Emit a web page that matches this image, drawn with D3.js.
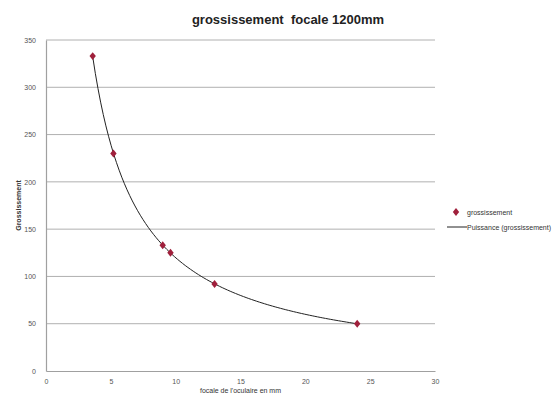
<!DOCTYPE html>
<html>
<head>
<meta charset="utf-8">
<script src="https://cdn.jsdelivr.net/npm/d3@7"></script>
<style>
  body { margin: 0; background: #fff; }
  text { font-family: "Liberation Sans", Arial, sans-serif; }
</style>
</head>
<body>
<svg id="chart" width="560" height="420"></svg>
<script>
// focale des oculaires (mm) et grossissement obtenu
const focales = [3.6, 5.2, 9, 9.6, 13, 24];
const grossissements = [333, 230, 133, 125, 92, 50];
const xTicks = [0, 5, 10, 15, 20, 25, 30];
const yTicks = [0, 50, 100, 150, 200, 250, 300, 350];

let svg = d3.select('#chart');

let margin = {left: 46, right: 125, top: 40, bottom: 49};
let width = 560, height = 420;

let x = d3.scaleLinear().domain([0, 30]).range([margin.left, width - margin.right]);
let y = d3.scaleLinear().domain([0, 350]).range([height - margin.bottom, margin.top]);

// grille horizontale
svg.append('g')
  .selectAll('line')
  .data(yTicks.slice(1))
  .enter()
  .append('line')
  .attr('x1', x(0)).attr('x2', x(30))
  .attr('y1', d => y(d)).attr('y2', d => y(d))
  .attr('stroke', '#b0b0b0')
  .attr('stroke-width', 1);

let xAxis = svg.append('g')
  .attr('transform', `translate(0,${y(0)})`)
  .call(d3.axisBottom(x).tickValues(xTicks).tickSize(0).tickPadding(8));
let yAxis = svg.append('g')
  .attr('transform', `translate(${x(0)},0)`)
  .call(d3.axisLeft(y).tickValues(yTicks).tickSize(0).tickPadding(10));

[xAxis, yAxis].forEach(a => {
  a.select('.domain').attr('stroke', '#a0a0a0').attr('stroke-width', 1.2);
  a.selectAll('text').attr('fill', '#555').style('font-size', '7px');
});

// courbe de tendance puissance (y = a * x^b, ici ~1200 / x)
let n = focales.length;
let lx = focales.map(Math.log), ly = grossissements.map(Math.log);
let mx = d3.mean(lx), my = d3.mean(ly);
let b = d3.sum(lx.map((v, i) => (v - mx) * (ly[i] - my))) / d3.sum(lx.map(v => (v - mx) * (v - mx)));
let a = Math.exp(my - b * mx);
let curveX = d3.range(0, 101).map(i => focales[0] + (focales[n - 1] - focales[0]) * i / 100);

svg.append('path')
  .datum(curveX)
  .attr('fill', 'none')
  .attr('stroke', '#222')
  .attr('stroke-width', 1)
  .attr('d', d3.line().x(d => x(d)).y(d => y(a * Math.pow(d, b))));

let star = d3.symbol().type(d3.symbolDiamond).size(18);
svg.append('g')
  .selectAll('path')
  .data(focales)
  .enter()
  .append('path')
  .attr('d', star)
  .attr('transform', (d, i) => `translate(${x(d)},${y(grossissements[i])}) scale(1.4,1)`)
  .attr('fill', '#a0203c');

// titres
svg.append('text')
  .attr('x', 288).attr('y', 24)
  .attr('text-anchor', 'middle')
  .style('font-size', '13px').style('font-weight', 'bold')
  .style('white-space', 'pre')
  .attr('fill', '#222')
  .text('grossissement  focale 1200mm');

svg.append('text')
  .attr('x', x(15)).attr('y', 393)
  .attr('text-anchor', 'middle')
  .style('font-size', '7px')
  .attr('fill', '#333')
  .text("focale de l'oculaire en mm");

svg.append('text')
  .attr('transform', `translate(21,${y(175)}) rotate(-90)`)
  .attr('text-anchor', 'middle')
  .style('font-size', '7px').style('font-weight', 'bold')
  .attr('fill', '#333')
  .text('Grossissement');

// légende
let legend = svg.append('g').attr('transform', 'translate(447,212)');
legend.append('path').attr('d', star).attr('transform', 'translate(9,0) scale(1.4,1)').attr('fill', '#a0203c');
legend.append('text').attr('x', 20).attr('y', 2.5).style('font-size', '7px').attr('fill', '#333').text('grossissement');
legend.append('line').attr('x1', 0).attr('x2', 20).attr('y1', 15).attr('y2', 15).attr('stroke', '#222');
legend.append('text').attr('x', 20).attr('y', 17.5).style('font-size', '7px').attr('fill', '#333').text('Puissance (grossissement)');
</script>
</body>
</html>
